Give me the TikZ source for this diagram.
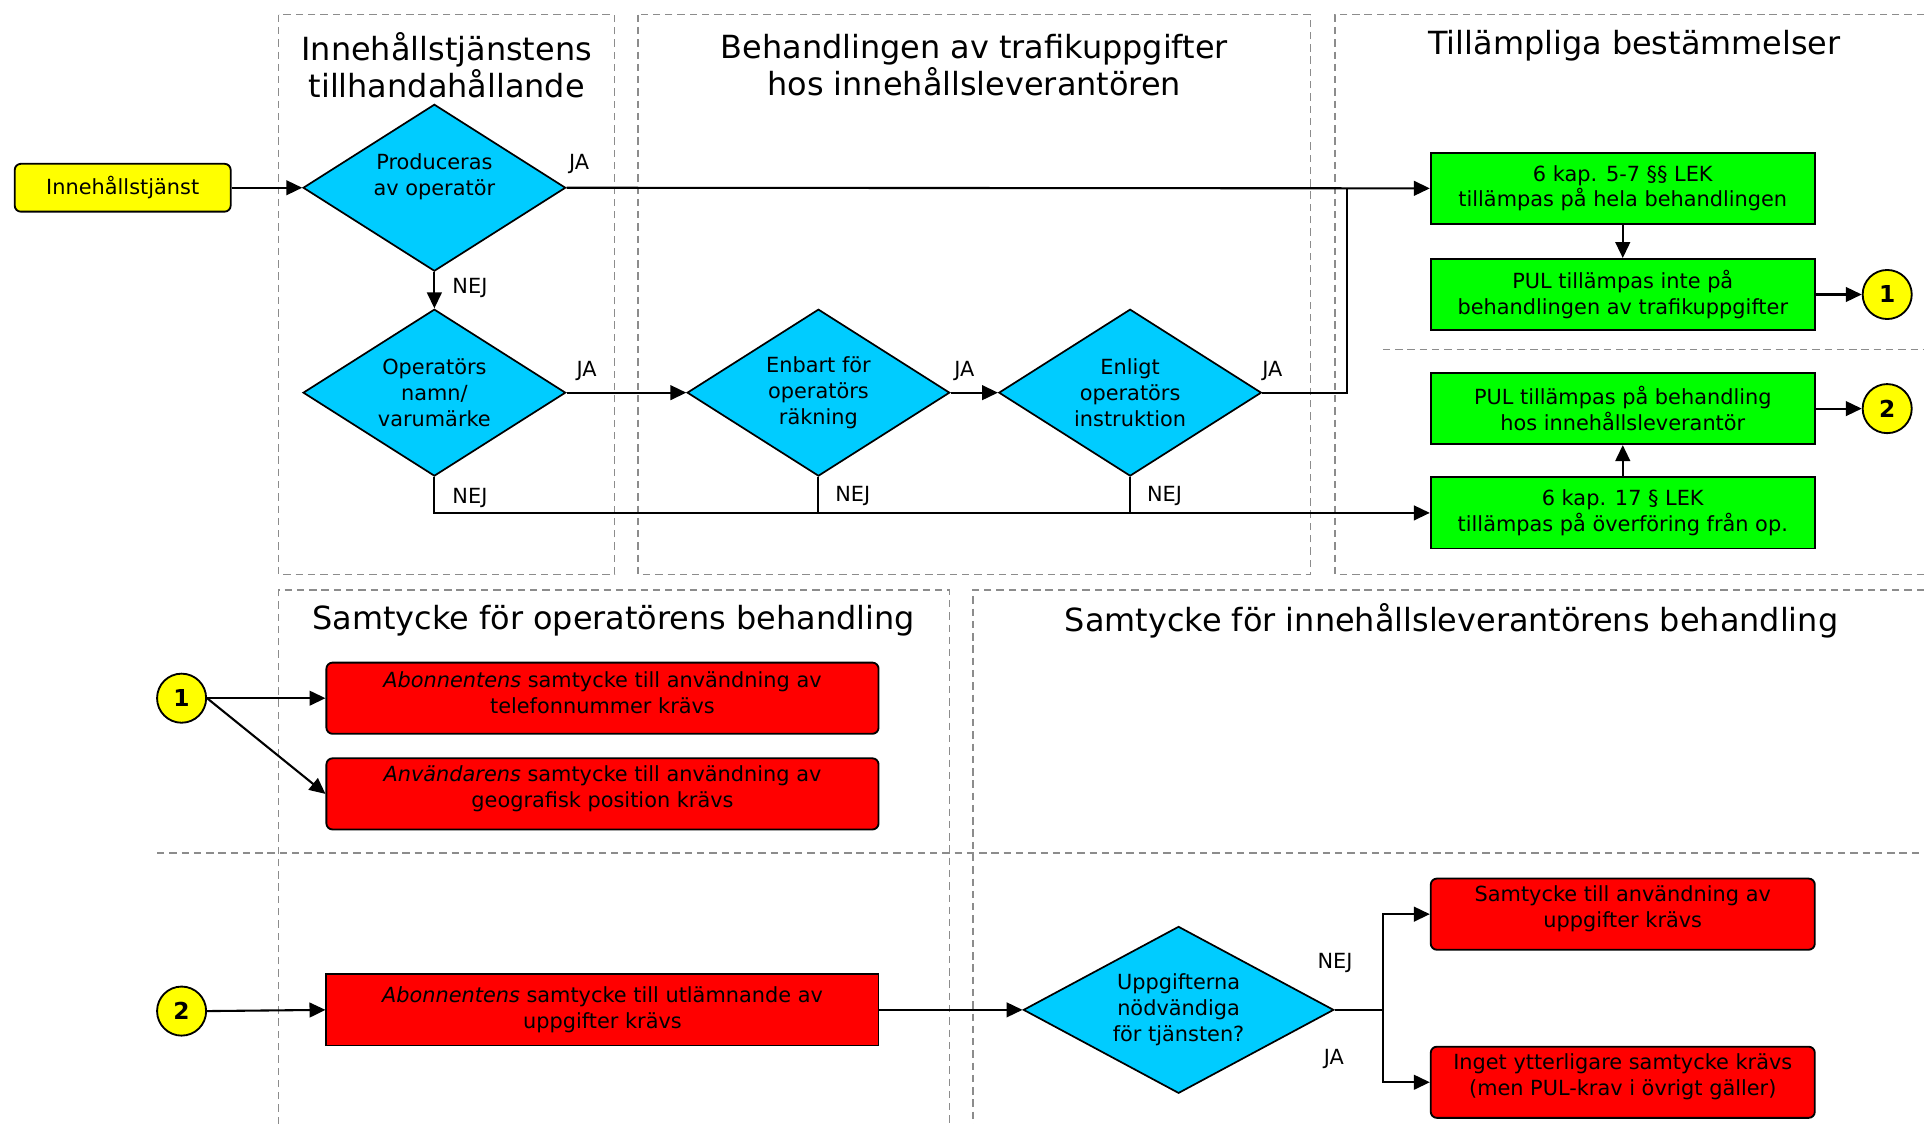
\documentclass[tikz,border=0pt]{standalone}
\usepackage{fontspec}
\setmainfont{DejaVu Sans}
\usetikzlibrary{shapes.geometric,arrows.meta}
\definecolor{ylw}{HTML}{FFFF00}
\definecolor{cyn}{HTML}{00CCFF}
\definecolor{grn}{HTML}{00FF00}
\definecolor{rd}{HTML}{FF0000}
\definecolor{dsh}{HTML}{8C8C8C}
\begin{document}
\begin{tikzpicture}[x=1pt,y=-1pt,
  every node/.style={font=\fontsize{17}{21}\selectfont},
  dec/.style={diamond, draw=black, line width=1.4pt, fill=cyn, minimum width=214pt, minimum height=136pt, aspect=1.57, inner sep=0pt, align=center},
  grnbox/.style={rectangle, draw=black, line width=1.5pt, fill=grn, minimum width=313pt, minimum height=58pt, inner sep=0pt, align=center},
  redbox/.style={rectangle, rounded corners=5pt, draw=black, line width=1.5pt, fill=rd, minimum width=450pt, minimum height=58pt, inner sep=0pt, align=center},
  redsq/.style={rectangle, draw=black, line width=1.5pt, fill=rd, minimum width=450pt, minimum height=58pt, inner sep=0pt, align=center},
  boxtxt/.style={align=center, inner sep=0pt, yshift=4.5pt, font=\fontsize{17}{21}\selectfont},
  yelbox/.style={rectangle, rounded corners=5pt, draw=black, line width=1.5pt, fill=ylw, minimum width=176pt, minimum height=39pt, inner sep=0pt},
  num/.style={circle, draw=black, line width=1.5pt, fill=ylw, minimum size=40pt, inner sep=0pt, font=\fontsize{19}{19}\bfseries\selectfont},
  conn/.style={line width=1.7pt, -{Triangle[length=13pt,width=12pt]}},
  lnk/.style={line width=1.7pt},
  panel/.style={dsh, line width=1.2pt, dash pattern=on 6pt off 4pt},
  ttl/.style={font=\fontsize{26}{30}\selectfont, align=center},
  lbl/.style={font=\fontsize{17}{20}\selectfont, inner sep=0pt}
]
\fill[white] (0,0) rectangle (1568,916);
\useasboundingbox (0,0) rectangle (1568,916);

% panels
\draw[panel] (227,12) rectangle (501,468);
\draw[panel] (520,12) rectangle (1068,468);
\draw[panel] (1568,12) -- (1088,12) -- (1088,468) -- (1568,468);
\draw[panel] (1127,285) -- (1568,285);
\draw[panel] (227,916) -- (227,481) -- (774,481) -- (774,916);
\draw[panel] (1568,481) -- (793,481) -- (793,916);
\draw[panel] (128,695) -- (1568,695);

% titles
\node[ttl] (t1) at (364,53) {Innehållstjänstens\\tillhandahållande};
\node[ttl] (t2) at (794,53) {Behandlingen av trafikuppgifter\\hos innehållsleverantören};
\node[ttl] (t3) at (1332,37) {Tillämpliga bestämmelser};
\node[ttl] (t4) at (500,506) {Samtycke för operatörens behandling};
\node[ttl] (t5) at (1183,506) {Samtycke för innehållsleverantörens behandling};

% nodes
\node[yelbox] (yel) at (100,153) {Innehållstjänst};
\node[dec] (d1) at (354,153) {Produceras\\av operatör\\\mbox{}};
\node[dec] (d2) at (354,320) {Operatörs\\namn/\\varumärke};
\node[dec] (d3) at (667,320) {Enbart för\\operatörs\\räkning};
\node[dec] (d4) at (921,320) {Enligt\\operatörs\\instruktion};

\node[grnbox] (g1) at (1322.5,153.5) {6 kap. 5-7 §§ LEK\\tillämpas på hela behandlingen};
\node[grnbox] (g2) at (1322.5,240) {PUL tillämpas inte på\\behandlingen av trafikuppgifter};
\node[grnbox] (g3) at (1322.5,333) {PUL tillämpas på behandling\\hos innehållsleverantör};
\node[grnbox] (g4) at (1322.5,418) {6 kap. 17 § LEK\\tillämpas på överföring från op.};

\node[num] (c1a) at (1538,240) {1};
\node[num] (c2a) at (1538,333) {2};
\node[num] (c1b) at (148,569) {1};
\node[num] (c2b) at (148,824) {2};

\node[redbox] (r1) at (491,569) {};
\node[boxtxt] (r1t) at (r1.center) {\textit{Abonnentens} samtycke till användning av\\telefonnummer krävs};
\node[redbox] (r2) at (491,647) {};
\node[boxtxt] (r2t) at (r2.center) {\textit{Användarens} samtycke till användning av\\geografisk position krävs};
\node[redsq] (r3) at (491,823) {\textit{Abonnentens} samtycke till utlämnande av\\uppgifter krävs};
\node[dec, minimum width=253pt, aspect=1.86] (d5) at (960.5,823) {Uppgifterna\\nödvändiga\\för tjänsten?};
\node[redbox, minimum width=313pt] (r4) at (1322.5,745) {};
\node[boxtxt] (r4t) at (r4.center) {Samtycke till användning av\\uppgifter krävs};
\node[redbox, minimum width=313pt] (r5) at (1322.5,882) {};
\node[boxtxt] (r5t) at (r5.center) {Inget ytterligare samtycke krävs\\(men PUL-krav i övrigt gäller)};

\coordinate (j1) at (1098,153.5);
\coordinate (j2) at (1127,823);

% connectors
\draw[conn] (yel) -- (d1.west);
\draw[conn] (d1.east) -- (g1.west);
\draw[lnk] (d4.east) -| (j1);
\draw[conn] (d1.south) -- (d2.north);
\draw[conn] (d2.east) -- (d3.west);
\draw[conn] (d3.east) -- (d4.west);
\draw[conn] (d2.south) |- (g4.west);
\draw[lnk] (d3.south) -- (d3.south |- g4.west);
\draw[lnk] (d4.south) -- (d4.south |- g4.west);
\draw[conn] (g1.south) -- (g2.north);
\draw[conn] (g4.north) -- (g3.south);
\draw[conn] (g2.east) -- (c1a.west);
\draw[conn] (g3.east) -- (c2a.west);
\draw[conn] (c1b.east) -- (r1.west);
\draw[conn] (c1b.east) -- (r2.west);
\draw[conn] (c2b.east) -- (r3.west);
\draw[conn] (r3.east) -- (d5.west);
\draw[lnk] (d5.east) -- (j2);
\draw[conn] (j2) |- (r4.west);
\draw[conn] (j2) |- (r5.west);

% labels
\node[lbl] (l1) at (472,134) {JA};
\node[lbl] (l2) at (383,235) {NEJ};
\node[lbl] (l3) at (478,302) {JA};
\node[lbl] (l4) at (383,406) {NEJ};
\node[lbl] (l5) at (786,302) {JA};
\node[lbl] (l6) at (695,404) {NEJ};
\node[lbl] (l7) at (1037,302) {JA};
\node[lbl] (l8) at (949,404) {NEJ};
\node[lbl] (l9) at (1088,785) {NEJ};
\node[lbl] (l10) at (1087,863) {JA};
\end{tikzpicture}
\end{document}
